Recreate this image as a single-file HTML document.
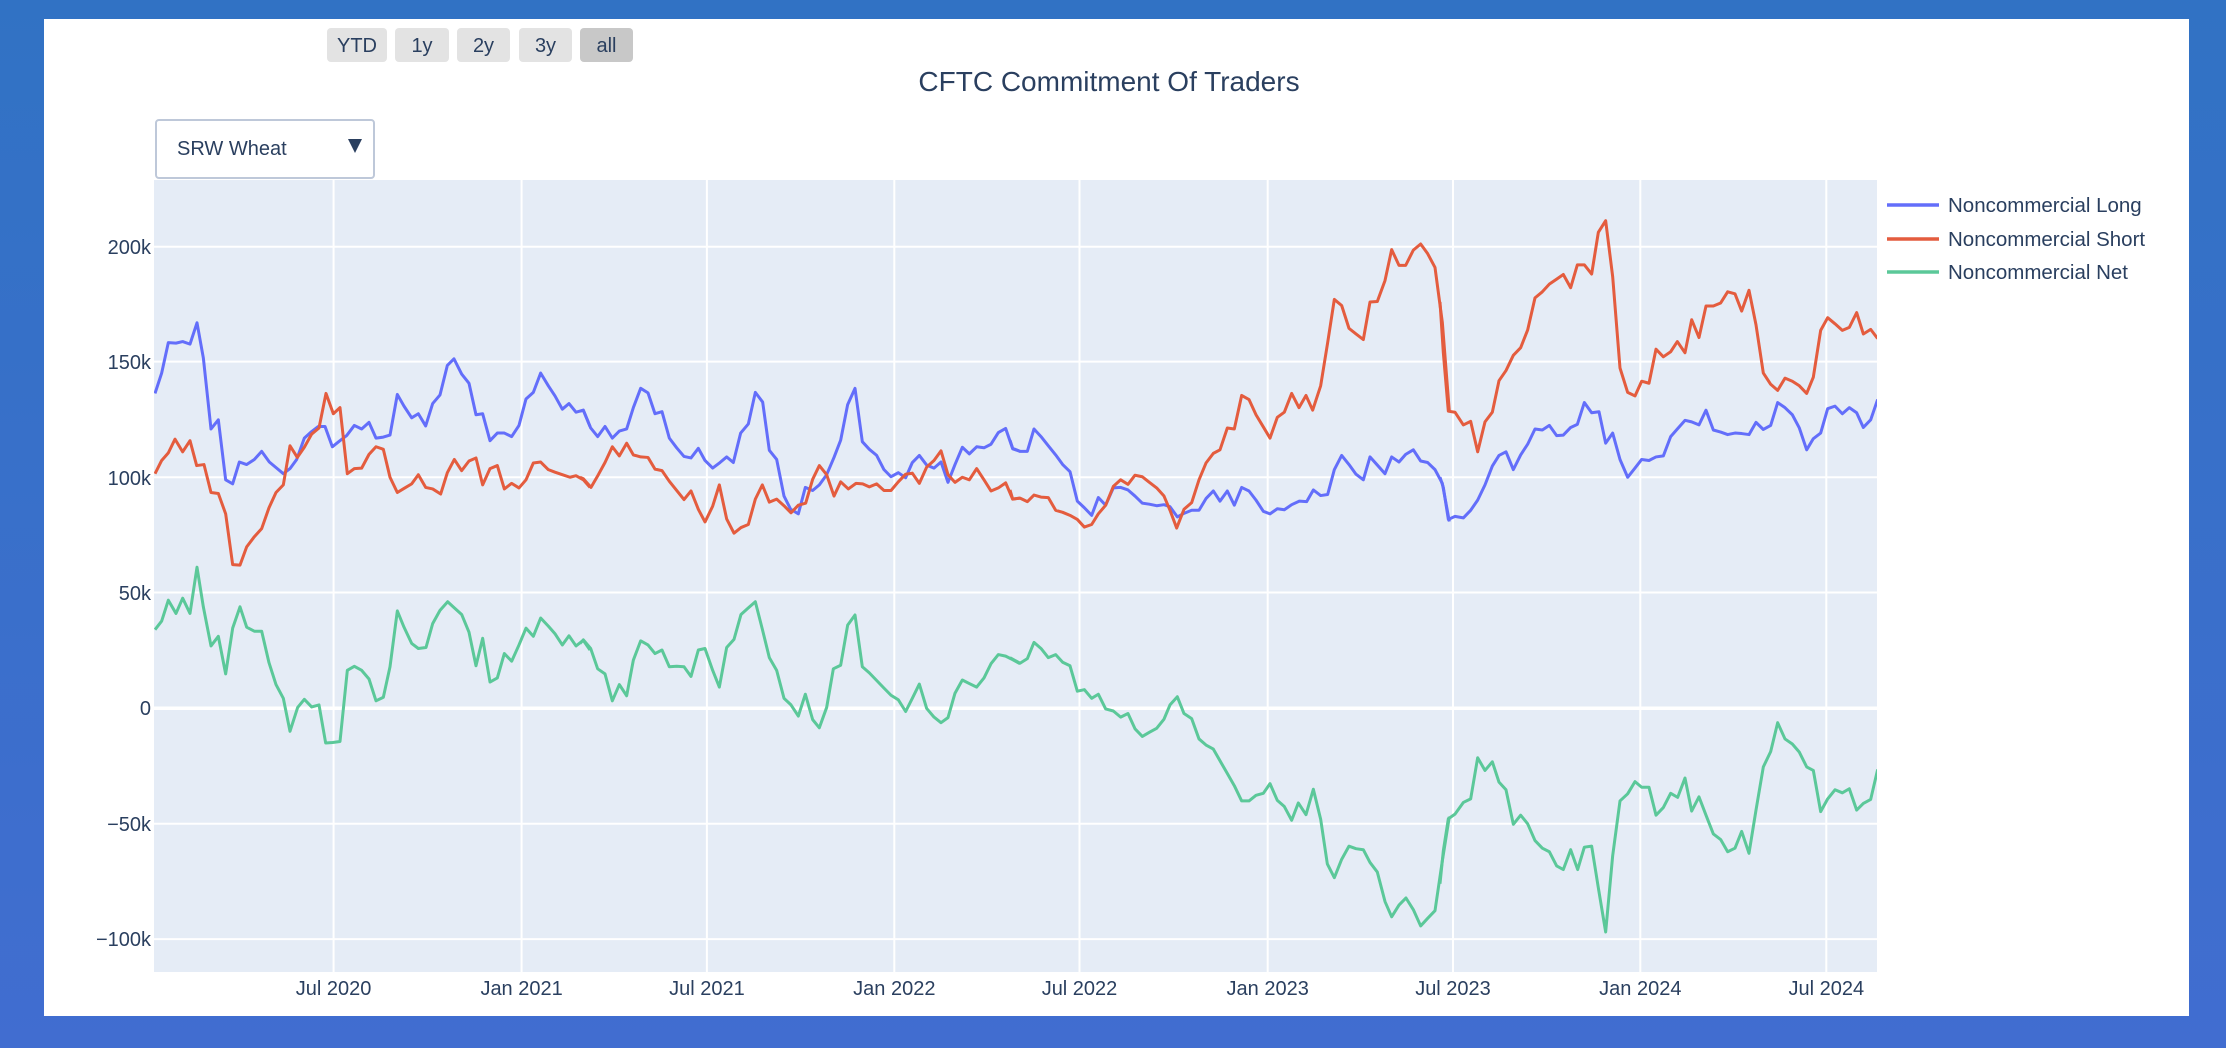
<!DOCTYPE html>
<html><head><meta charset="utf-8"><style>
html,body{margin:0;padding:0;}
body{width:2226px;height:1048px;background:linear-gradient(#3172c4,#416dd0);position:relative;overflow:hidden;font-family:"Liberation Sans",sans-serif;}
.card{position:absolute;left:44px;top:19px;width:2145px;height:997px;background:#fff;}
</style></head><body>
<div class="card"></div>
<svg width="2226" height="1048" style="position:absolute;left:0;top:0" font-family="Liberation Sans, sans-serif">
<defs><clipPath id="pc"><rect x="154" y="180" width="1723" height="792"/></clipPath></defs>
<!-- buttons -->
<g font-size="20" fill="#2a3f5f" text-anchor="middle">
<rect x="327" y="28" width="60" height="34" rx="4" fill="#e3e3e3"/><text x="357" y="52">YTD</text>
<rect x="395" y="28" width="54" height="34" rx="4" fill="#e3e3e3"/><text x="422" y="52">1y</text>
<rect x="457" y="28" width="53" height="34" rx="4" fill="#e3e3e3"/><text x="483.5" y="52">2y</text>
<rect x="519" y="28" width="53" height="34" rx="4" fill="#e3e3e3"/><text x="545.5" y="52">3y</text>
<rect x="580" y="28" width="53" height="34" rx="4" fill="#c8c8c8"/><text x="606.5" y="52">all</text>
</g>
<text x="1109" y="91" font-size="28" fill="#2a3f5f" text-anchor="middle">CFTC Commitment Of Traders</text>
<!-- dropdown -->
<rect x="156" y="120" width="218" height="58" rx="3" fill="#fff" stroke="#bec8d9" stroke-width="2"/>
<text x="177" y="155" font-size="20" fill="#2a3f5f">SRW Wheat</text>
<path d="M348,139 L362,139 L355,153 Z" fill="#2a3f5f"/>
<!-- plot -->
<rect x="154" y="180" width="1723" height="792" fill="#e5ecf6"/>
<g stroke="#fff" stroke-width="2">
<line x1="333.6" y1="180" x2="333.6" y2="972"/><line x1="521.6" y1="180" x2="521.6" y2="972"/>
<line x1="706.9" y1="180" x2="706.9" y2="972"/><line x1="894.3" y1="180" x2="894.3" y2="972"/>
<line x1="1079.5" y1="180" x2="1079.5" y2="972"/><line x1="1267.7" y1="180" x2="1267.7" y2="972"/>
<line x1="1453" y1="180" x2="1453" y2="972"/><line x1="1640.3" y1="180" x2="1640.3" y2="972"/>
<line x1="1826.3" y1="180" x2="1826.3" y2="972"/>
<line x1="154" y1="246.7" x2="1877" y2="246.7"/><line x1="154" y1="361.6" x2="1877" y2="361.6"/>
<line x1="154" y1="477.3" x2="1877" y2="477.3"/><line x1="154" y1="592.5" x2="1877" y2="592.5"/>
<line x1="154" y1="823.8" x2="1877" y2="823.8"/><line x1="154" y1="939.1" x2="1877" y2="939.1"/>
<line x1="154" y1="708.2" x2="1877" y2="708.2" stroke-width="3.5"/>
</g>
<g font-size="20" fill="#2a3f5f" text-anchor="end">
<text x="151" y="254">200k</text><text x="151" y="369">150k</text><text x="151" y="485">100k</text>
<text x="151" y="600">50k</text><text x="151" y="715">0</text><text x="151" y="831">−50k</text><text x="151" y="946">−100k</text>
</g>
<g font-size="20" fill="#2a3f5f" text-anchor="middle">
<text x="333.6" y="995">Jul 2020</text><text x="521.6" y="995">Jan 2021</text><text x="706.9" y="995">Jul 2021</text>
<text x="894.3" y="995">Jan 2022</text><text x="1079.5" y="995">Jul 2022</text><text x="1267.7" y="995">Jan 2023</text>
<text x="1453" y="995">Jul 2023</text><text x="1640.3" y="995">Jan 2024</text><text x="1826.3" y="995">Jul 2024</text>
</g>
<g clip-path="url(#pc)" fill="none" stroke-width="3" stroke-linejoin="round">
<g transform="translate(150,180) scale(0.33333,0.50813)">
<polyline vector-effect="non-scaling-stroke" stroke="#636efa" points="15,420 35,380 55,320 78,321 98,318 120,323 141,281 160,350 183,490 205,472 227,590 248,598 268,555 290,560 313,550 335,534 358,555 380,567 400,578 420,568 440,550 463,508 485,495 505,485 525,485 547,525 568,514 590,503 613,483 635,490 657,477 678,508 700,506 720,502 742,422 762,445 785,468 805,460 827,484 848,440 870,423 892,365 912,352 935,382 957,400 978,462 998,460 1020,513 1042,498 1063,498 1085,505 1107,483 1128,431 1150,418 1172,380 1195,405 1215,425 1237,451 1257,440 1278,457 1300,453 1320,485"/>
<polyline vector-effect="non-scaling-stroke" stroke="#e45c3e" points="15,578 35,552 55,537 75,510 98,535 120,513 140,562 162,560 183,615 205,617 227,657 248,757 270,758 290,722 313,702 335,686 357,645 378,615 400,600 420,523 442,546 463,526 485,500 507,488 528,420 550,460 570,448 592,578 613,568 635,567 657,540 678,525 700,530 720,585 742,615 762,607 785,598 805,580 827,605 848,608 872,618 892,576 913,550 935,572 957,553 978,547 998,600 1020,568 1042,562 1063,608 1085,597 1107,606 1128,590 1150,557 1172,555 1195,570 1215,575 1237,580 1260,585 1278,582 1300,590 1320,605"/>
<polyline vector-effect="non-scaling-stroke" stroke="#5bc899" points="15,885 35,868 55,827 78,853 98,823 120,853 141,762 160,840 183,917 205,898 227,972 248,882 270,840 290,880 313,888 335,888 357,950 378,993 400,1020 420,1085 443,1038 463,1022 485,1037 507,1033 527,1108 548,1107 570,1105 592,965 613,957 635,965 657,982 678,1025 700,1018 720,958 742,848 762,880 785,912 805,922 828,920 848,873 870,847 893,830 913,842 935,855 957,890 978,956 998,902 1020,988 1042,980 1063,932 1085,947 1107,915 1128,882 1150,898 1172,862 1195,878 1215,893 1237,915 1257,897 1278,917 1300,906 1320,925"/>
</g>
<g transform="translate(580,180) scale(0.33333,0.50813)">
<polyline vector-effect="non-scaling-stroke" stroke="#636efa" points="0,455 10,453 32,488 53,505 75,485 97,508 118,494 140,490 160,448 182,410 204,419 225,460 246,456 268,508 290,527 312,544 333,547 355,528 375,552 398,567 420,556 440,545 460,556 482,498 505,480 526,418 548,437 568,532 590,550 612,622 632,648 655,657 676,605 698,611 718,600 740,580 762,546 782,512 803,442 825,410 847,515 868,530 890,542 912,570 933,584 955,576 977,586 997,556 1018,542 1040,561 1062,567 1083,555 1104,595 1125,560 1147,526 1168,539 1190,525 1212,527 1233,520 1255,497 1277,489 1298,529 1320,534"/>
<polyline vector-effect="non-scaling-stroke" stroke="#e45c3e" points="0,585 10,588 33,605 55,580 75,556 97,525 118,543 140,518 160,541 182,545 204,546 225,569 246,572 268,593 290,611 312,629 333,612 355,648 375,673 398,642 418,600 440,667 462,695 483,684 505,678 526,628 547,600 568,634 590,628 612,641 633,655 655,640 677,636 698,589 718,562 740,580 762,622 782,594 805,608 828,597 848,598 868,604 890,598 912,611 933,611 955,594 977,579 997,577 1018,597 1040,565 1062,552 1083,533 1104,580 1125,595 1147,585 1168,590 1190,568 1212,590 1233,612 1255,606 1277,596 1298,628 1320,626"/>
<polyline vector-effect="non-scaling-stroke" stroke="#5bc899" points="0,912 10,905 32,922 53,962 75,972 97,1025 118,993 140,1015 160,945 182,907 204,915 225,932 246,925 268,958 290,957 312,958 333,977 355,925 375,922 398,965 418,998 440,920 462,904 483,855 505,842 526,830 547,884 568,940 590,965 612,1020 633,1033 655,1055 676,1012 698,1062 718,1078 740,1038 760,962 782,955 803,876 825,856 847,958 868,970 890,985 912,1000 933,1014 955,1023 977,1046 997,1020 1018,992 1040,1040 1062,1057 1083,1068 1104,1058 1125,1010 1147,984 1168,991 1190,998 1212,980 1233,952 1255,934 1277,937 1298,944 1320,952"/>
</g>
<g transform="translate(1010,180) scale(0.33333,0.50813)">
<polyline vector-effect="non-scaling-stroke" stroke="#636efa" points="0,512 8,528 30,534 52,534 72,490 93,505 115,523 137,541 158,560 180,574 202,632 223,645 245,660 265,625 287,640 310,606 332,605 354,610 375,622 397,636 418,638 440,641 462,639 480,643 502,663 522,656 545,650 567,650 588,627 610,612 630,632 652,612 673,640 695,605 717,612 738,630 760,652 780,657 802,647 823,649 845,639 868,632 890,633 910,610 932,621 953,619 973,570 995,542 1017,560 1038,579 1060,590 1080,545 1102,561 1125,578 1145,545 1167,555 1187,540 1210,531 1232,553 1253,556 1275,570 1297,597 1318,672"/>
<polyline vector-effect="non-scaling-stroke" stroke="#e45c3e" points="0,610 8,628 30,626 52,633 72,620 93,624 115,625 137,650 158,654 180,660 202,668 223,683 245,678 265,657 287,640 310,603 332,590 354,599 375,581 397,584 418,595 440,606 462,622 480,650 500,685 522,648 545,635 567,590 588,557 610,538 630,531 652,488 673,490 695,424 717,432 738,462 760,486 780,508 802,467 823,457 845,420 867,448 888,424 908,453 932,405 953,320 973,235 995,247 1017,292 1038,303 1060,314 1080,240 1102,239 1125,198 1145,137 1167,168 1187,168 1210,138 1232,126 1253,145 1275,172 1297,280 1318,455"/>
<polyline vector-effect="non-scaling-stroke" stroke="#5bc899" points="0,940 30,951 52,942 72,910 93,922 115,940 137,934 158,949 180,956 202,1006 223,1003 245,1020 265,1012 287,1041 310,1045 332,1057 354,1050 375,1080 397,1095 418,1087 440,1079 462,1061 480,1033 502,1017 522,1050 545,1060 567,1100 588,1112 610,1120 630,1143 652,1168 673,1192 695,1222 717,1222 738,1211 760,1207 780,1188 802,1221 823,1233 845,1260 865,1226 888,1249 910,1199 932,1258 952,1346 973,1373 995,1337 1017,1311 1038,1316 1060,1318 1080,1343 1102,1362 1125,1420 1145,1450 1167,1427 1188,1413 1210,1436 1232,1468 1253,1453 1275,1438 1297,1340 1318,1253"/>
</g>
<g transform="translate(1440,180) scale(0.33333,0.50813)">
<polyline vector-effect="non-scaling-stroke" stroke="#636efa" points="0,585 10,605 25,668 45,662 70,665 92,650 113,630 135,600 157,563 177,542 198,535 220,570 242,541 263,520 285,490 307,492 328,483 350,503 370,502 392,487 412,481 433,438 455,458 477,456 497,518 518,498 540,550 563,585 585,567 605,550 627,552 648,545 670,543 692,505 712,490 735,473 755,476 777,482 798,453 820,492 842,496 863,501 885,498 905,499 927,501 948,477 970,491 992,483 1013,438 1035,448 1057,462 1078,488 1100,531 1120,509 1142,498 1163,450 1185,445 1207,460 1228,448 1250,458 1270,487 1292,472 1313,432"/>
<polyline vector-effect="non-scaling-stroke" stroke="#e45c3e" points="0,240 10,340 25,455 45,457 70,482 92,475 113,535 135,476 157,457 177,395 198,375 220,345 242,330 263,295 285,232 307,220 328,205 350,195 370,186 392,212 412,167 433,167 455,185 475,103 497,80 518,190 540,370 563,418 585,425 605,396 627,400 648,333 670,348 692,338 712,318 735,340 755,275 777,310 798,248 820,248 842,242 863,220 885,224 905,258 927,217 948,285 970,380 992,402 1013,414 1035,390 1057,396 1078,405 1100,420 1120,388 1142,296 1163,271 1185,283 1207,296 1228,290 1250,261 1270,303 1292,294 1313,312"/>
<polyline vector-effect="non-scaling-stroke" stroke="#5bc899" points="0,1385 10,1320 25,1257 45,1248 70,1225 92,1218 113,1137 135,1162 157,1145 177,1185 198,1200 220,1268 242,1250 263,1267 285,1300 307,1315 328,1322 350,1350 370,1357 392,1318 413,1357 433,1313 455,1311 475,1393 497,1480 518,1330 540,1222 563,1208 585,1184 605,1195 627,1195 648,1250 670,1235 692,1207 713,1215 735,1177 755,1242 777,1214 798,1250 820,1287 842,1298 863,1322 885,1315 905,1282 927,1325 948,1240 970,1155 992,1125 1013,1068 1035,1100 1057,1110 1078,1126 1100,1155 1120,1162 1142,1243 1163,1218 1185,1200 1207,1206 1228,1198 1250,1240 1270,1227 1292,1219 1313,1160"/>
</g>
</g>
<!-- legend -->
<g stroke-width="3.5">
<line x1="1887" y1="205" x2="1939" y2="205" stroke="#636efa"/>
<line x1="1887" y1="239" x2="1939" y2="239" stroke="#e45c3e"/>
<line x1="1887" y1="272" x2="1939" y2="272" stroke="#5bc899"/>
</g>
<g font-size="20.5" fill="#2a3f5f">
<text x="1948" y="212">Noncommercial Long</text>
<text x="1948" y="246">Noncommercial Short</text>
<text x="1948" y="279">Noncommercial Net</text>
</g>
</svg>
</body></html>
